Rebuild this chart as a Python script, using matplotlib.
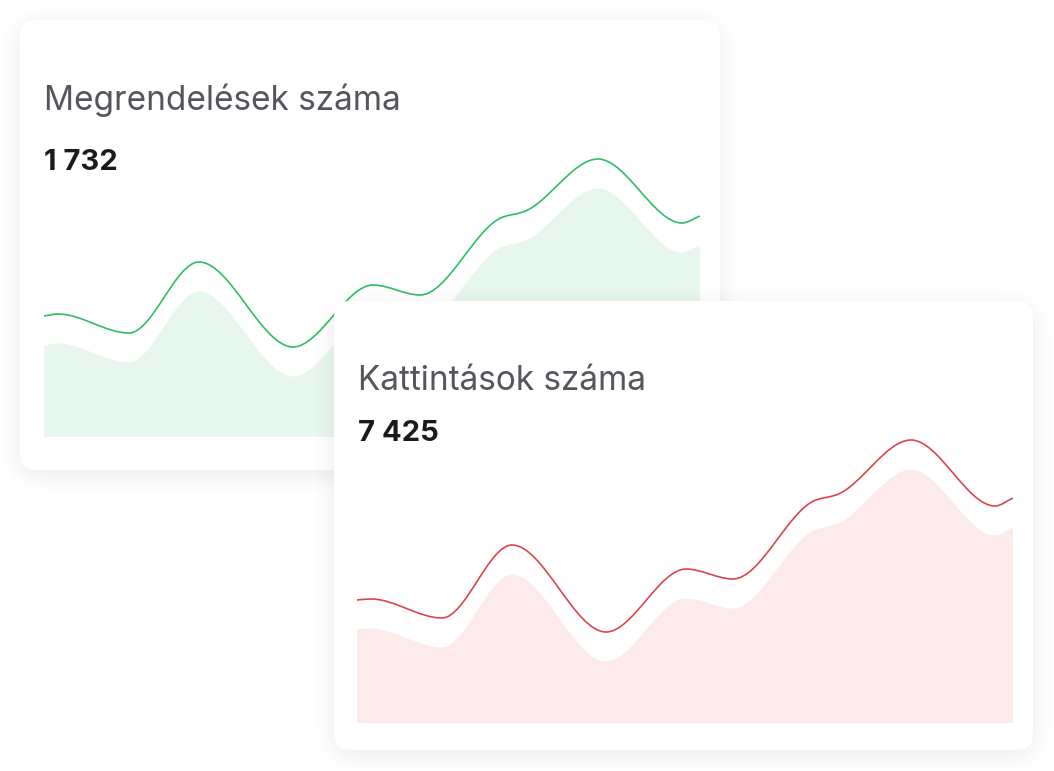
import numpy as np
import matplotlib
matplotlib.use("Agg")
import matplotlib.pyplot as plt
from matplotlib.path import Path
from matplotlib.patches import PathPatch, FancyBboxPatch

W, H = 1054, 771

# adatok (a görbék töréspontjai)
x_pos = [0, 14, 85, 155, 249, 329, 376, 459, 479, 554, 638, 656]
megrendelesek = [121, 123, 104, 175, 90, 152, 142, 220, 225, 278, 214, 221]
kattintasok = [123, 124, 105, 178, 91, 154, 144, 223, 228, 283, 217, 225]

cimek = ["Megrendelések száma", "Kattintások száma"]
osszegek = ["1 732", "7 425"]

plt.rcParams["font.family"] = ["Inter", "DejaVu Sans"]


def meredekseg(x, y):
    # monoton köbös (Fritsch-Carlson) érintők
    x = np.asarray(x, float)
    y = np.asarray(y, float)
    h = np.diff(x)
    d = np.diff(y) / h
    m = np.zeros_like(y)
    m[0] = d[0]
    m[-1] = d[-1]
    for i in range(1, len(y) - 1):
        if d[i - 1] * d[i] > 0:
            w1 = 2 * h[i] + h[i - 1]
            w2 = h[i] + 2 * h[i - 1]
            m[i] = (w1 + w2) / (w1 / d[i - 1] + w2 / d[i])
    return m


def gorbe(x, y, eltolas=0.0):
    m = meredekseg(x, y)
    verts = [(x[0], y[0] - eltolas)]
    codes = [Path.MOVETO]
    for i in range(len(x) - 1):
        h = x[i + 1] - x[i]
        verts += [(x[i] + h / 3, y[i] + m[i] * h / 3 - eltolas),
                  (x[i + 1] - h / 3, y[i + 1] - m[i + 1] * h / 3 - eltolas),
                  (x[i + 1], y[i + 1] - eltolas)]
        codes += [Path.CURVE4] * 3
    return verts, codes


def blur1d(a, r, axis):
    a = np.swapaxes(a, 0, axis)
    p = np.pad(a, ((r + 1, r), (0, 0)))
    c = np.cumsum(p, axis=0)
    out = (c[2 * r + 1:] - c[:-2 * r - 1]) / (2 * r + 1)
    return np.swapaxes(out, 0, axis)


def arnyek(x0, y0, x1, y1, rad=16, r=10, dy=5, erosseg=0.11):
    yy, xx = np.mgrid[0:H, 0:W] + 0.5
    yy = yy - dy
    dx = np.maximum(np.maximum(x0 + rad - xx, xx - (x1 - rad)), 0)
    dyy = np.maximum(np.maximum(y0 + rad - yy, yy - (y1 - rad)), 0)
    maszk = (np.hypot(dx, dyy) <= rad).astype(float)
    for _ in range(3):
        maszk = blur1d(maszk, r, 0)
        maszk = blur1d(maszk, r, 1)
    img = np.zeros((H, W, 4))
    img[..., 0] = 0.25
    img[..., 1] = 0.25
    img[..., 2] = 0.32
    img[..., 3] = maszk * erosseg
    return img


def kartya(ax, x0, y0, x1, y1):
    ax.imshow(arnyek(x0, y0, x1, y1), extent=(0, W, H, 0), aspect="auto",
              interpolation="bilinear", zorder=0)
    ax.add_patch(FancyBboxPatch((x0, y0), x1 - x0, y1 - y0,
                                boxstyle="round,pad=0,rounding_size=16",
                                fc="white", ec="none", zorder=1))


def hatter_ax():
    ax = fig.add_axes([0, 0, 1, 1])
    ax.set_xlim(0, W)
    ax.set_ylim(H, 0)
    ax.axis("off")
    ax.patch.set_alpha(0)
    return ax


def diagram(left_px, base_px, ertekek, vonal, kitoltes):
    ax = fig.add_axes([left_px / W, (H - base_px) / H, 656 / W, 300 / H])
    ax.set_xlim(0, 656)
    ax.set_ylim(0, 300)
    ax.axis("off")
    ax.patch.set_alpha(0)
    verts, codes = gorbe(x_pos, ertekek, 29.5)
    verts += [(x_pos[-1], 0), (x_pos[0], 0), (x_pos[0], 0)]
    codes += [Path.LINETO, Path.LINETO, Path.CLOSEPOLY]
    ax.add_patch(PathPatch(Path(verts, codes), fc=kitoltes, ec="none"))
    verts, codes = gorbe(x_pos, ertekek)
    ax.add_patch(PathPatch(Path(verts, codes), fc="none", ec=vonal, lw=1.2))
    return ax


fig = plt.figure(figsize=(W / 100, H / 100), dpi=100, facecolor="white")

# első kártya
ax1 = hatter_ax()
kartya(ax1, 20, 20, 720, 470)
ax1.text(44, 110, cimek[0], fontsize=24, color="#56555e", fontweight="normal", va="baseline")
ax1.text(44, 170, osszegek[0], fontsize=21, color="#1b1b1f", fontweight="bold", va="baseline")
diagram(44, 437, megrendelesek, "#2fbf62", "#e7f7ed")

# második kártya
ax2 = hatter_ax()
kartya(ax2, 334, 301, 1033, 750)
ax2.text(358, 390, cimek[1], fontsize=24, color="#56555e", fontweight="normal", va="baseline")
ax2.text(358, 441, osszegek[1], fontsize=21, color="#1b1b1f", fontweight="bold", va="baseline")
diagram(357, 723, kattintasok, "#d9464b", "#fdeaea")

fig.savefig("out.png", dpi=100, facecolor="white")
